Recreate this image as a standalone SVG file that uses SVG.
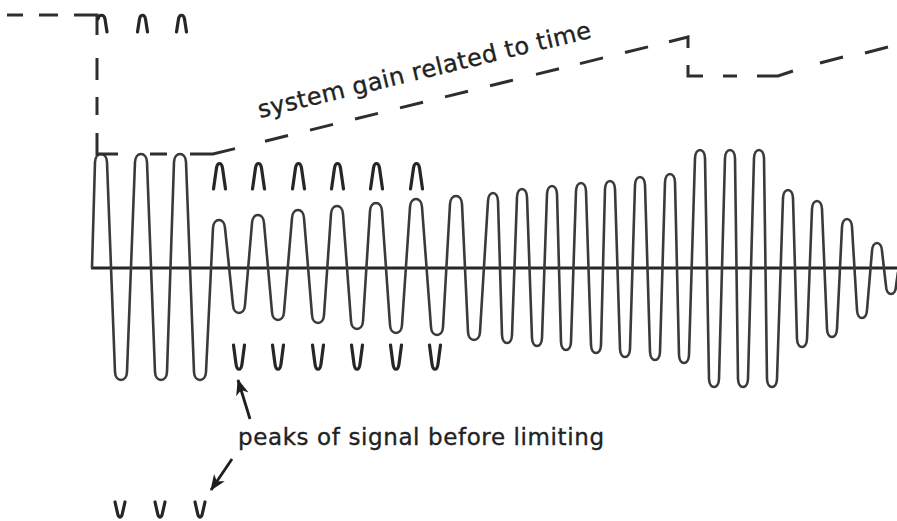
<svg xmlns="http://www.w3.org/2000/svg" width="897" height="521" viewBox="0 0 897 521">
<style>
.wave{fill:none;stroke:#3a3a3a;stroke-width:2.6;stroke-linejoin:round}
.axis{fill:none;stroke:#262626;stroke-width:3.2}
.gain{fill:none;stroke:#2e2e2e;stroke-width:3;stroke-linecap:butt;stroke-linejoin:miter}
.tip{fill:none;stroke:#262626;stroke-width:3.2;stroke-linecap:round;stroke-linejoin:round}
.lbl{font-family:"DejaVu Sans","Liberation Sans",sans-serif;fill:#222;stroke:#222;stroke-width:0.35}
.arr{fill:none;stroke:#1e1e1e;stroke-width:2.8}
</style>
<defs>
<marker id="ah" viewBox="0 0 16 13" refX="15" refY="6.5" markerWidth="16" markerHeight="13" markerUnits="userSpaceOnUse" orient="auto">
<path d="M0,0 L16,6.5 L0,13 L4.5,6.5 Z" fill="#1e1e1e"/>
</marker>
</defs>
<rect width="897" height="521" fill="#ffffff"/>

<g id="axis">
<line class="axis" x1="91" y1="268" x2="897" y2="268"/>
</g>

<g id="waveform">
<path class="wave" d="M92,268 L95,162 C95.5,151.3 106.5,151.3 107,162
L115,372 C115.5,382.7 126.5,382.7 127,372
L135,162 C135.5,151.3 146.5,151.3 147,162
L155,372 C155.5,382.7 166.5,382.7 167,372
L174,162 C174.5,151.3 185.5,151.3 186,162
L194,372 C194.5,382.7 205.5,382.7 206,372
L213,228 C213.5,217.3 224.5,217.3 225,228
L233,305 C233.5,315.7 244.5,315.7 245,305
L252,223 C252.5,212.3 263.5,212.3 264,223
L272,312 C272.5,322.7 283.5,322.7 284,312
L292,218 C292.5,207.3 303.5,207.3 304,218
L312,315 C312.5,325.7 323.5,325.7 324,315
L331,214 C331.5,203.3 342.5,203.3 343,214
L351,321 C351.5,331.7 362.5,331.7 363,321
L370,211 C370.5,200.3 381.5,200.3 382,211
L390,325 C390.5,335.7 401.5,335.7 402,325
L410,207 C410.5,196.3 421.5,196.3 422,207
L431,327 C431.5,337.7 442.5,337.7 443,327
L450,204 C450.5,193.3 461.5,193.3 462,204
L468,332 C468.5,342.7 479.5,342.7 480,332
L488,201 C488.5,190.3 497.5,190.3 498,201
L502,335 C502.5,345.7 511.5,345.7 512,335
L517,197 C517.5,186.3 526.5,186.3 527,197
L532,338 C532.5,348.7 541.5,348.7 542,338
L547,194 C547.5,183.3 556.5,183.3 557,194
L561,342 C561.5,352.7 570.5,352.7 571,342
L576,191 C576.5,180.3 585.5,180.3 586,191
L591,345 C591.5,355.7 600.5,355.7 601,345
L605,189 C605.5,178.3 614.5,178.3 615,189
L620,349 C620.5,359.7 629.5,359.7 630,349
L635,185 C635.5,174.3 644.5,174.3 645,185
L650,352 C650.5,362.7 659.5,362.7 660,352
L665,182 C665.5,171.3 674.5,171.3 675,182
L679,355 C679.5,365.7 688.5,365.7 689,355
L695,158 C695.5,147.3 704.5,147.3 705,158
L709,379 C709.5,389.7 718.5,389.7 719,379
L725,158 C725.5,147.3 734.5,147.3 735,158
L738,379 C738.5,389.7 747.5,389.7 748,379
L754,158 C754.5,147.3 763.5,147.3 764,158
L767,379 C767.5,389.7 776.5,389.7 777,379
L783,198 C783.5,187.3 792.5,187.3 793,198
L797,339 C797.5,349.7 806.5,349.7 807,339
L812,209 C812.5,198.3 821.5,198.3 822,209
L827,329 C827.5,339.7 836.5,339.7 837,329
L842,227 C842.5,216.3 851.5,216.3 852,227
L857,310 C857.5,320.7 866.5,320.7 867,310
L872,251 C872.5,240.3 881.5,240.3 882,251
L886,286 C886.5,296.7 895.5,296.7 896,286
L898,272"/>
</g>

<g id="gain-line">
<path class="gain" d="M7,15 H23 M39,15 H58 M74,15 H97 V35 M97,58 V80 M97,97 V115 M97,133 V154 H118 M150,154 H167 M190,154 H213 L235,148.6
M265,141.2 L288,135.5 M310,130.1 L333,124.4 M355,119 L378,113.4 M400,107.9 L423,102.3 M445,96.9 L468,91.2
M490,85.8 L513,80.1 M536,74.4 L559,68.8 M580,63.6 L603,57.9 M625,52.5 L648,46.9 M669,41.7 L688,37 V48
M688,65 V76 H703 M723,76 H737 M757,76 H778 L793,71 M820,63 L843,57 M865,53 L888,47"/>
</g>

<g id="peaks-top">
<path class="tip" d="M98,19 C99,14 104,14 105,19 L107,32"/>
<path class="tip" d="M137.5,32 L139.5,19 C140.5,14 144.5,14 145.5,19 L147.5,32"/>
<path class="tip" d="M176.5,32 L178.5,19 C179.5,14 183.5,14 184.5,19 L186.5,32"/>
</g>

<g id="peaks-upper">
<path class="tip" d="M213.5,189 L216.5,168 C217.5,162 221.5,162 222.5,168 L225.5,189"/>
<path class="tip" d="M252.5,189 L255.5,168 C256.5,162 260.5,162 261.5,168 L264.5,189"/>
<path class="tip" d="M292.5,189 L295.5,168 C296.5,162 300.5,162 301.5,168 L304.5,189"/>
<path class="tip" d="M331.5,189 L334.5,168 C335.5,162 339.5,162 340.5,168 L343.5,189"/>
<path class="tip" d="M370.5,189 L373.5,168 C374.5,162 378.5,162 379.5,168 L382.5,189"/>
<path class="tip" d="M410.5,189 L413.5,168 C414.5,162 418.5,162 419.5,168 L422.5,189"/>
</g>

<g id="peaks-lower">
<path class="tip" d="M233.5,345 L236,364 C237,371 241,371 242,364 L244.5,345"/>
<path class="tip" d="M272.5,345 L275,364 C276,371 280,371 281,364 L283.5,345"/>
<path class="tip" d="M312.5,345 L315,364 C316,371 320,371 321,364 L323.5,345"/>
<path class="tip" d="M351.5,345 L354,364 C355,371 359,371 360,364 L362.5,345"/>
<path class="tip" d="M390.5,345 L393,364 C394,371 398,371 399,364 L401.5,345"/>
<path class="tip" d="M429.5,345 L432,364 C433,371 437,371 438,364 L440.5,345"/>
</g>

<g id="peaks-bottom">
<path class="tip" d="M115,502 L117.5,513 C118.5,518.5 121.5,518.5 122.5,513 L125,502"/>
<path class="tip" d="M155,502 L157.5,513 C158.5,518.5 161.5,518.5 162.5,513 L165,502"/>
<path class="tip" d="M195,502 L197.5,513 C198.5,518.5 201.5,518.5 202.5,513 L205,502"/>
</g>

<g id="label-gain">
<text class="lbl" x="260" y="118" font-size="24" textLength="342" lengthAdjust="spacing" transform="rotate(-13.6 260 118)">system gain related to time</text>
</g>

<g id="label-peaks">
<text class="lbl" x="238" y="445" font-size="23" textLength="366" lengthAdjust="spacing">peaks of signal before limiting</text>
</g>

<g id="connectors">
<line class="arr" x1="250" y1="419" x2="238" y2="380" marker-end="url(#ah)"/>
<line class="arr" x1="232" y1="459" x2="211" y2="490" marker-end="url(#ah)"/>
</g>
</svg>
